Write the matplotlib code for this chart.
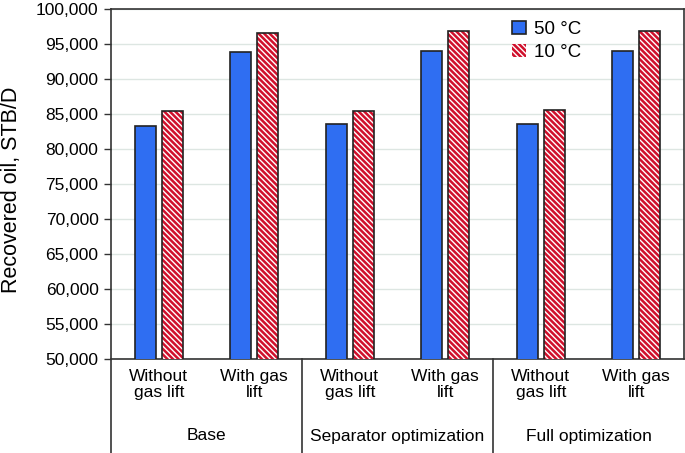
import numpy as np
import matplotlib.pyplot as plt

plt.rcParams['font.family'] = ['Liberation Sans', 'DejaVu Sans']
plt.rcParams['hatch.linewidth'] = 1.0

groups = ['Base', 'Separator optimization', 'Full optimization']
cases = ['Without\ngas lift', 'With gas\nlift']
temp_50 = [83300, 93900, 83600, 94000, 83600, 94000]
temp_10 = [85400, 96600, 85500, 96800, 85550, 96800]
yticks = np.arange(50000, 100001, 5000)

fig = plt.figure(figsize=(6.85, 4.53), dpi=100)
ax = fig.add_axes([111 / 685, 1 - 359 / 453, (684 - 111) / 685, (359 - 9) / 453])

x = np.arange(len(temp_50)) + 0.5
w = 0.22
ax.bar(x - 0.14, temp_50, w, color='#2f6ef2', edgecolor='#222222', linewidth=1.2,
       label='50 °C', zorder=3)
ax.bar(x + 0.14, temp_10, w, color='#d0102c', edgecolor='white', linewidth=0,
       hatch='\\\\\\\\\\\\', label='10 °C', zorder=3)
# outline for hatched bars
ax.bar(x + 0.14, temp_10, w, color='none', edgecolor='#222222', linewidth=1.2, zorder=4)

ax.set_xlim(0, 6)
ax.set_ylim(50000, 100000)
ax.set_yticks(yticks)
ax.set_yticklabels([f'{v:,}' for v in yticks], fontsize=12.5)
ax.yaxis.grid(True, color='#dde6e2', linewidth=1, zorder=0)
ax.set_xticks([])
ax.tick_params(axis='y', length=5, width=1, color='#333333', pad=4)
for s in ax.spines.values():
    s.set_color('#333333')
    s.set_linewidth(1.2)
ax.spines['left'].set_visible(False)
ax.set_ylabel('Recovered oil, STB/D', fontsize=15.5)
ax.yaxis.set_label_coords(-0.156, 0.483)

# left axis line and group separators extend below the plot
trans = ax.get_xaxis_transform()
bottom = -(453 - 359) / (359 - 9)
for xs in [0, 2, 4]:
    ax.plot([xs, xs], [1, bottom] if xs == 0 else [0, bottom], color='#333333',
            linewidth=1.2, transform=trans, clip_on=False, zorder=5)

for i, xc in enumerate(x):
    ax.text(xc, -0.028, cases[i % 2], transform=trans, ha='center', va='top',
            fontsize=12.5, linespacing=1.1)
for j, g in enumerate(groups):
    ax.text(2 * j + 1, -0.22, g, transform=trans, ha='center', va='center', fontsize=12.5)

ax.legend(loc='upper left', bbox_to_anchor=(0.67, 1.015), frameon=False, fontsize=13.5,
          handlelength=0.75, handleheight=0.75, handletextpad=0.45, labelspacing=0.3)

fig.savefig('out.png', dpi=100)
